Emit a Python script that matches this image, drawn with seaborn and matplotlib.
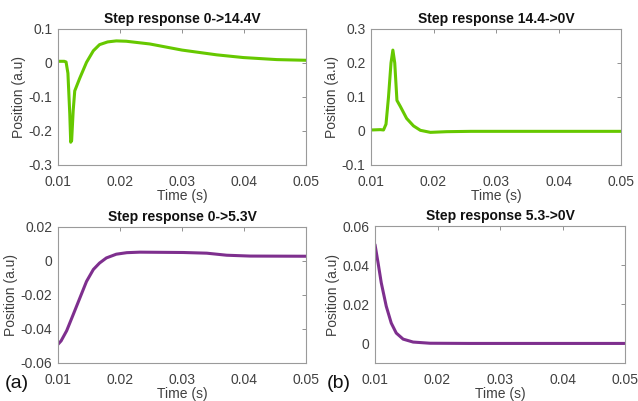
import numpy as np
import pandas as pd
import matplotlib
matplotlib.use("Agg")
import matplotlib.pyplot as plt
import seaborn as sns

# ---- data ----
t1 = [0.0100, 0.0110, 0.0113, 0.0116, 0.0119, 0.01205, 0.0122, 0.01245, 0.0127, 0.0135, 0.0146,
      0.0157, 0.0167, 0.0180, 0.0194, 0.0210, 0.0248, 0.0300, 0.0356, 0.0399, 0.0453, 0.0500]
v1 = [0.005, 0.005, 0.003, -0.03, -0.15, -0.233, -0.228, -0.14, -0.082, -0.045, 0.002,
      0.036, 0.054, 0.062, 0.065, 0.064, 0.056, 0.038, 0.024, 0.016, 0.010, 0.008]

t2 = [0.0100, 0.0115, 0.0120, 0.0124, 0.0128, 0.0132, 0.0135, 0.0138, 0.01415, 0.0147, 0.0157,
      0.0168, 0.0179, 0.0195, 0.0221, 0.0260, 0.0350, 0.0500]
v2 = [0.003, 0.004, 0.003, 0.02, 0.10, 0.20, 0.238, 0.20, 0.090, 0.072, 0.037,
      0.015, 0.002, -0.004, -0.002, -0.001, -0.001, -0.001]

t3 = [0.0100, 0.0105, 0.0114, 0.0124, 0.0135, 0.0146, 0.0157, 0.0167, 0.0178, 0.0194, 0.0211,
      0.0232, 0.0302, 0.0340, 0.0372, 0.0410, 0.0500]
v3 = [-0.049, -0.047, -0.041, -0.032, -0.022, -0.012, -0.005, -0.0012, 0.0018, 0.0040, 0.0049,
      0.0052, 0.0050, 0.0046, 0.0034, 0.0029, 0.0028]

t4 = [0.0100, 0.0105, 0.0110, 0.0118, 0.0126, 0.0134, 0.0145, 0.0161, 0.0188, 0.0250, 0.0500]
v4 = [0.0505, 0.041, 0.031, 0.019, 0.0104, 0.0053, 0.0022, 0.0007, 0.0001, 0.0, 0.0]

titles = ["Step response 0->14.4V", "Step response 14.4->0V",
          "Step response 0->5.3V", "Step response 5.3->0V"]
ylims = [(-0.3, 0.1), (-0.1, 0.3), (-0.06, 0.02), (-0.01, 0.06)]
yticks = [[-0.3, -0.2, -0.1, 0, 0.1], [-0.1, 0, 0.1, 0.2, 0.3],
          [-0.06, -0.04, -0.02, 0, 0.02], [0, 0.02, 0.04, 0.06]]
yticklabels = [["-0.3", "-0.2", "-0.1", "0", "0.1"], ["-0.1", "0", "0.1", "0.2", "0.3"],
               ["-0.06", "-0.04", "-0.02", "0", "0.02"], ["0", "0.02", "0.04", "0.06"]]
xticks = [0.01, 0.02, 0.03, 0.04, 0.05]
xticklabels = ["0.01", "0.02", "0.03", "0.04", "0.05"]
green = "#66C800"
purple = "#7E2F8E"
colors = [green, green, purple, purple]
panel_labels = ["(a)", "(b)"]

sns.set_style("white")
plt.rcParams["font.family"] = ["Liberation Sans", "DejaVu Sans"]

W, H = 638, 401
fig = plt.figure(figsize=(W / 100, H / 100), dpi=100)
boxes = [(58, 306, 29, 165), (371, 621, 29, 165), (58, 306, 227, 363), (375, 625, 226, 363)]
series = [(t1, v1), (t2, v2), (t3, v3), (t4, v4)]

for i, (box, (t, v)) in enumerate(zip(boxes, series)):
    l, r, top, bot = box
    ax = fig.add_axes([l / W, 1 - bot / H, (r - l) / W, (bot - top) / H])
    df = pd.DataFrame({"Time (s)": t, "Position (a.u)": v})
    sns.lineplot(data=df, x="Time (s)", y="Position (a.u)", ax=ax, color=colors[i], linewidth=2.2)
    ax.set_xlim(0.01, 0.05)
    ax.set_ylim(*ylims[i])
    ax.set_xticks(xticks)
    ax.set_xticklabels(xticklabels)
    ax.set_yticks(yticks[i])
    ax.set_yticklabels(yticklabels[i])
    ax.set_title(titles[i], fontsize=10, fontweight="bold", color="#111111", pad=4)
    ax.set_xlabel("Time (s)", fontsize=10, color="#404040", labelpad=0)
    ax.set_ylabel("Position (a.u)", fontsize=10, color="#404040", labelpad=2)
    ax.tick_params(axis="both", direction="in", length=3, width=0.6, colors="#808080",
                   labelcolor="#404040", labelsize=10, top=True, right=True)
    ax.tick_params(axis="x", pad=7)
    ax.tick_params(axis="y", pad=4)
    for s in ax.spines.values():
        s.set_color("#9a9a9a")
        s.set_linewidth(0.8)

fig.text(5 / W, 1 - 383 / H, panel_labels[0], fontsize=14, va="center", ha="left", color="#111111")
fig.text(327 / W, 1 - 383 / H, panel_labels[1], fontsize=14, va="center", ha="left", color="#111111")

fig.savefig("out.png", dpi=100)
